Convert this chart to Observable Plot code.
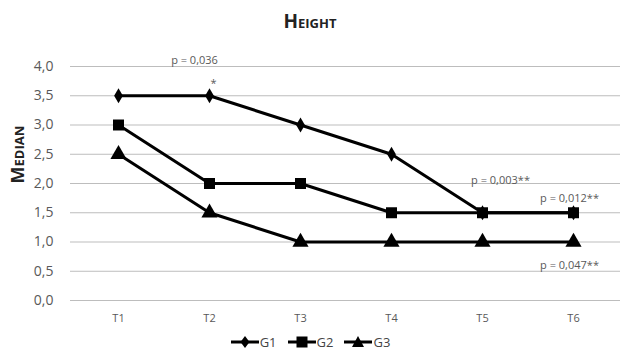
<!DOCTYPE html>
<html><head><meta charset="utf-8">
<script src="https://cdn.jsdelivr.net/npm/d3@7"></script>
<script src="https://cdn.jsdelivr.net/npm/@observablehq/plot@0.6"></script>
<style>
body{margin:0;background:#fff;font-family:"Open Sans",sans-serif;width:620px;height:354px;overflow:hidden}
#title{height:36px;line-height:42px;text-align:center;font-weight:bold;font-variant:small-caps;font-size:19px;color:#222}
#legend{height:24px;display:flex;justify-content:center;align-items:center;font-size:13px;color:#444;margin-top:0px}
#legend span{display:inline-flex;align-items:center;margin:0 5px}
</style></head><body>
<div id="title">Height</div>
<div id="chart"></div>
<div id="legend"></div>
<script>
const times = ["T1","T2","T3","T4","T5","T6"];
const groups = ["G1","G2","G3"];
const g1 = [3.5, 3.5, 3.0, 2.5, 1.5, 1.5];
const g2 = [3.0, 2.0, 2.0, 1.5, 1.5, 1.5];
const g3 = [2.5, 1.5, 1.0, 1.0, 1.0, 1.0];
const yTicks = [0, 0.5, 1, 1.5, 2, 2.5, 3, 3.5, 4];
const notes = [
  {t:"T2", v:4.0, label:"p = 0,036", dx:-15, dy:-6},
  {t:"T2", v:3.5, label:"*", dx:4, dy:-12},
  {t:"T5", v:2.0, label:"p = 0,003**", dx:18, dy:-3},
  {t:"T6", v:1.5, label:"p = 0,012**", dx:-4, dy:-14},
  {t:"T6", v:0.5, label:"p = 0,047**", dx:-4, dy:-6}
];
const series = [g1, g2, g3];
const data = [];
groups.forEach((g, i) => times.forEach((t, j) => data.push({group:g, time:t, value:series[i][j]})));

const fmt = d => d.toFixed(1).replace(".", ",");
const plot = Plot.plot({
  width: 620, height: 294,
  marginTop: 30, marginBottom: 30, marginLeft: 70, marginRight: 0,
  style: {fontFamily: "Open Sans, sans-serif", fontSize: "11px", color: "#595959"},
  x: {domain: times, type: "point", padding: 0.5},
  y: {domain: [0, 4]},
  marks: [
    Plot.gridY(yTicks, {stroke: "#bdbdbd", strokeOpacity: 1, strokeWidth: 1}),
    Plot.axisX({tickSize: 0, tickPadding: 14, label: null, fontSize: 11}),
    Plot.axisY(yTicks, {tickFormat: fmt, tickSize: 0, tickPadding: 17, fontSize: 14, label: null}),
    Plot.text(["Median"], {frameAnchor: "left", dx: -52, rotate: -90, fontSize: 18, fontWeight: "bold", fill: "#222"}),
    Plot.line(data, {x: "time", y: "value", z: "group", stroke: "#000", strokeWidth: 3}),
    Plot.dot(data, {filter: d => d.group === "G1", x: "time", y: "value", symbol: "diamond", fill: "#000", r: 4.6}),
    Plot.dot(data, {filter: d => d.group === "G2", x: "time", y: "value", symbol: "square", fill: "#000", r: 6.2}),
    Plot.dot(data, {filter: d => d.group === "G3", x: "time", y: "value", symbol: "triangle", fill: "#000", r: 6}),
    Plot.text(notes, {x: "t", y: "v", text: "label", fill: "#595959", fontSize: 11})
  ]
});
document.getElementById("chart").appendChild(plot);
const groupsText = plot.querySelectorAll('[aria-label="text"]');
const noteTexts = groupsText[groupsText.length - 1].querySelectorAll("text");
noteTexts.forEach((el, i) => {
  const n = notes[i];
  const tr = el.getAttribute("transform") || "";
  el.setAttribute("transform", tr + ` translate(${n.dx},${n.dy})`);
});
groupsText[0].querySelectorAll("text").forEach(el => el.style.fontVariant = "small-caps");
plot.querySelectorAll('[aria-label="y-axis tick label"]').forEach(g => {
  g.style.fontSize = "14px";
  g.querySelectorAll("text").forEach(t => t.style.fontSize = "14px");
});

const leg = document.getElementById("legend");
const shapes = [
  '<path d="M15,0 L19.5,6 L15,12 L10.5,6Z" fill="#000"/>',
  '<rect x="9.5" y="0.5" width="11" height="11" fill="#000"/>',
  '<path d="M15,0 L21,11 L9,11Z" fill="#000"/>'
];
groups.forEach((g, i) => {
  const s = document.createElement("span");
  s.innerHTML = `<svg width="30" height="12"><line x1="1" y1="6" x2="29" y2="6" stroke="#000" stroke-width="3"/>${shapes[i]}</svg>${g}`;
  leg.appendChild(s);
});
</script>
</body></html>
